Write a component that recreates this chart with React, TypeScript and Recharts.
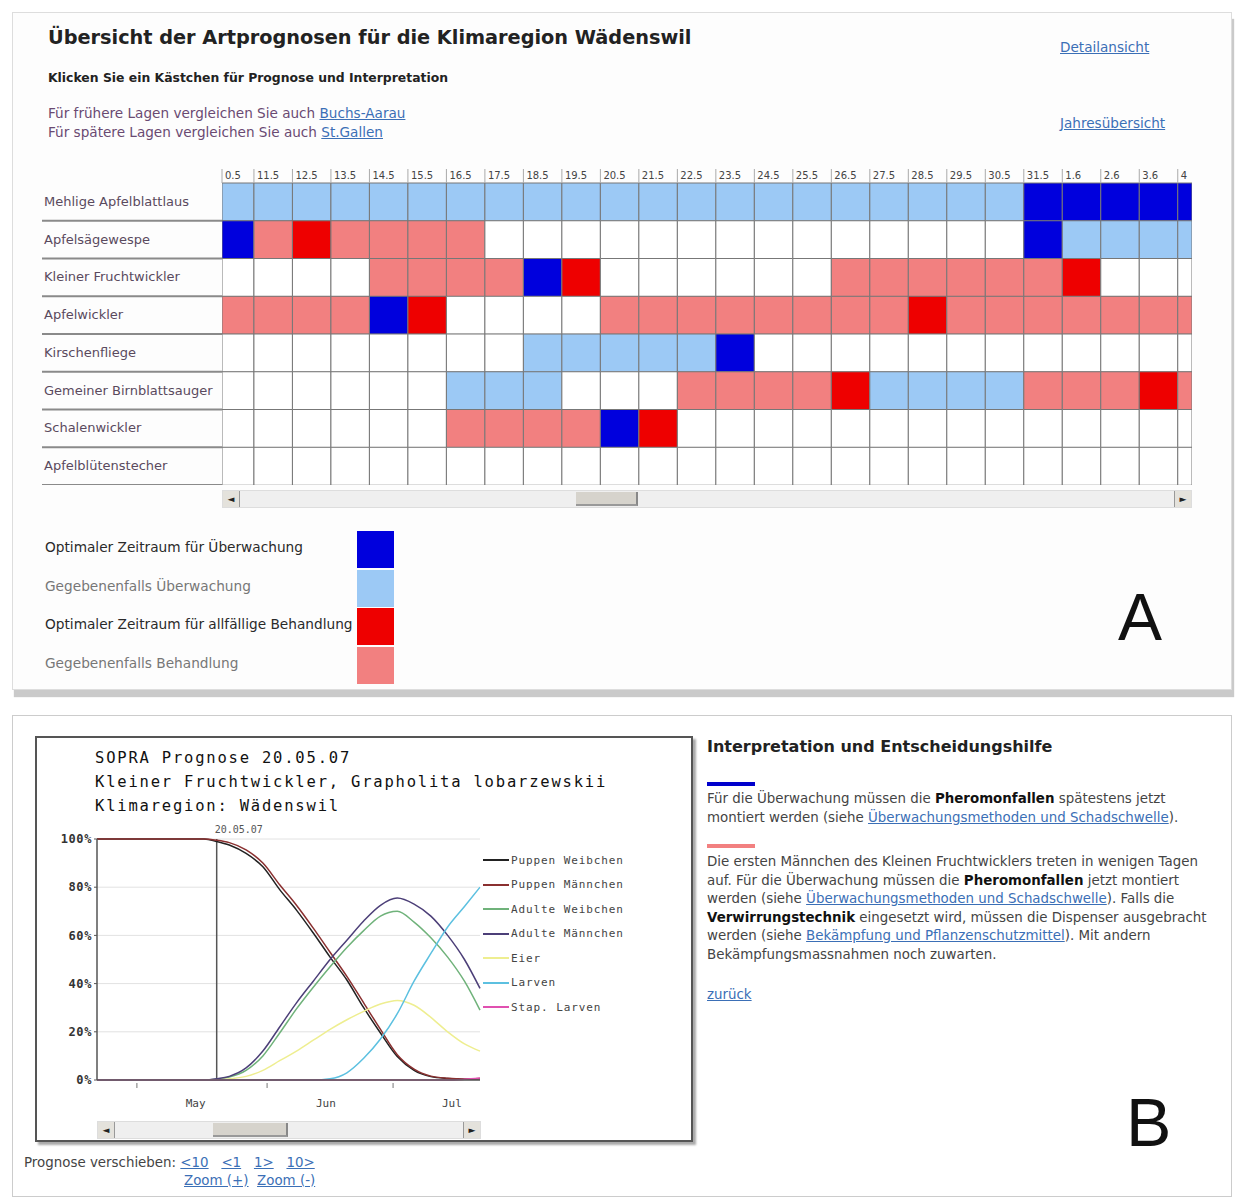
import React from 'react'
import {
  BarChart, Bar, Cell, XAxis, YAxis,
  LineChart, Line, CartesianGrid, ReferenceLine, Legend,
} from 'recharts'

// ---- panel A: species x date grid ----
const species = [
  'Mehlige Apfelblattlaus',
  'Apfelsägewespe',
  'Kleiner Fruchtwickler',
  'Apfelwickler',
  'Kirschenfliege',
  'Gemeiner Birnblattsauger',
  'Schalenwickler',
  'Apfelblütenstecher',
]

// visible column headers (grid is scrolled, first and last are cut)
const dates = [
  '0.5', '11.5', '12.5', '13.5', '14.5', '15.5', '16.5', '17.5', '18.5', '19.5',
  '20.5', '21.5', '22.5', '23.5', '24.5', '25.5', '26.5', '27.5', '28.5', '29.5',
  '30.5', '31.5', '1.6', '2.6', '3.6', '4',
]

// . none, l maybe monitoring, B optimal monitoring, r maybe treatment, R optimal treatment
const cellCodes = [
  'lllllllllllllllllllllBBBBB',
  'BrRrrrr..............Bllll',
  '....rrrrBR......rrrrrrR...',
  'rrrrBR....rrrrrrrrRrrrrrrr',
  '........lllllB............',
  '......lll...rrrrRllllrrrRr',
  '......rrrrBR..............',
  '..........................',
]

const codeColor: Record<string, string> = {
  '.': '#ffffff',
  l: '#9cc9f5',
  B: '#0000dd',
  r: '#f28080',
  R: '#ee0000',
}

const legendA = [
  { label: 'Optimaler Zeitraum für Überwachung', code: 'B', dark: true },
  { label: 'Gegebenenfalls Überwachung', code: 'l', dark: false },
  { label: 'Optimaler Zeitraum für allfällige Behandlung', code: 'R', dark: true },
  { label: 'Gegebenenfalls Behandlung', code: 'r', dark: false },
]

// ---- panel B: SOPRA forecast curves (day 0 = 1 May) ----
const days = [-9.5, 0, 10, 16, 19, 22, 26, 30, 34, 38, 42, 46, 50, 54, 58, 62, 66, 70, 74, 78, 81.7]
const puppenW = [100, 100, 100, 100, 99, 97.5, 94, 88.5, 79, 70.5, 61, 51, 41.5, 30, 19.5, 9.7, 4, 1.4, 0.6, 0.3, 0.5]
const puppenM = [100, 100, 100, 100, 99.5, 98.5, 95.5, 90, 81, 72.5, 63, 53, 43, 32, 21, 10.5, 4.5, 1.6, 0.7, 0.4, 0.6]
const adultW = [0, 0, 0, 0, 0.3, 1.2, 4, 10, 19.5, 29.5, 38.5, 47, 55, 62, 68, 70, 65.5, 59, 51, 41, 29]
const adultM = [0, 0, 0, 0, 0.5, 1.5, 5, 12, 22, 32, 41, 50, 58, 66, 72.5, 75.5, 73, 68, 60, 50, 38]
const eier = [0, 0, 0, 0, 0, 0.5, 1.5, 4, 8, 12, 16.5, 21, 25, 28.5, 31.5, 33, 31, 26, 20, 15, 12]
const larven = [0, 0, 0, 0, 0, 0, 0, 0, 0, 0, 0, 0.5, 3, 9, 17, 27.5, 41, 52.5, 63.5, 72, 80]
const stapLarven = [0, 0, 0, 0, 0, 0, 0, 0, 0, 0, 0, 0, 0, 0, 0, 0, 0, 0, 0, 0.3, 0.8]

const seriesB = [
  { key: 'pw', name: 'Puppen Weibchen', color: '#222222', values: puppenW },
  { key: 'pm', name: 'Puppen Männchen', color: '#8a3030', values: puppenM },
  { key: 'aw', name: 'Adulte Weibchen', color: '#6fb27a', values: adultW },
  { key: 'am', name: 'Adulte Männchen', color: '#4c3f78', values: adultM },
  { key: 'ei', name: 'Eier', color: '#eeee90', values: eier },
  { key: 'la', name: 'Larven', color: '#5cc0e0', values: larven },
  { key: 'sl', name: 'Stap. Larven', color: '#e050b0', values: stapLarven },
]

const monthStarts = [0, 31, 61]
const monthLabels = ['May', 'Jun', 'Jul']
const monthMids = [14, 45, 75]

const gridData = species.map(name => {
  const row: Record<string, any> = { name }
  dates.forEach((_, c) => { row['c' + c] = 1 })
  return row
})

const curveData = days.map((day, i) => {
  const row: Record<string, number> = { day }
  seriesB.forEach(s => { row[s.key] = s.values[i] })
  return row
})

const LABEL_W = 180
const HEADER_H = 18
const GRID_W = 1150
const GRID_H = 320
const ROW_H = (GRID_H - HEADER_H) / species.length
const COL_START = 0.17
const COL_END = 25.37

const SANS = '"DejaVu Sans", Verdana, sans-serif'
const ARIAL = '"Liberation Sans", Arial, sans-serif'
const MONO = '"DejaVu Sans Mono", "Liberation Mono", monospace'
const linkStyle: React.CSSProperties = { color: '#3b6fb6', textDecoration: 'underline' }

const RowTick = ({ x, y, payload }: any) => (
  <g>
    <text x={x - LABEL_W + 2} y={y + 4} fontSize={13} fill="#5a4a5e" fontFamily={SANS}>
      {payload.value}
    </text>
    <line x1={x - LABEL_W} x2={x} y1={y + ROW_H / 2} y2={y + ROW_H / 2} stroke="#8a8a8a" strokeWidth={2} />
  </g>
)

const DateTick = ({ x, y, payload }: any) => (
  <g>
    <line x1={x} x2={x} y1={y} y2={y - 14} stroke="#aaa" />
    <text x={x + 3} y={y - 4} fontSize={10} fill="#444" fontFamily={SANS}>
      {dates[Math.round(payload.value)]}
    </text>
  </g>
)

const MonthTick = ({ x, y, payload }: any) => {
  const si = monthStarts.indexOf(payload.value)
  if (si >= 0) return <line x1={x} x2={x} y1={y + 3} y2={y + 8} stroke="#777" />
  const mi = monthMids.indexOf(payload.value)
  return (
    <text x={x} y={y + 27} textAnchor="middle" fontSize={11} fill="#444" fontFamily={MONO}>
      {monthLabels[mi]}
    </text>
  )
}

const CurveLegend = ({ payload }: any) => {
  const order = seriesB.map(s => s.name)
  const items = [...(payload || [])].sort((a: any, b: any) => order.indexOf(a.value) - order.indexOf(b.value))
  return (
    <div>
      {items.map((p: any) => (
        <div key={p.value} style={{ display: 'flex', alignItems: 'center', height: 24.5 }}>
          <div style={{ width: 26, height: 2, background: p.color }} />
          <span style={{ fontFamily: MONO, fontSize: 11, color: '#444', marginLeft: 2, letterSpacing: 0.9 }}>
            {p.value}
          </span>
        </div>
      ))}
    </div>
  )
}

const ScrollBar = ({ left, top, width, height, thumbLeft, thumbWidth }: any) => (
  <div style={{ position: 'absolute', left, top, width, height, background: '#efefef', border: '1px solid #ddd', boxSizing: 'border-box' }}>
    <div style={{ position: 'absolute', left: 0, top: 0, width: height - 2, height: height - 2, background: '#e4e2dc', borderRight: '1px solid #999', fontSize: 9, lineHeight: `${height - 2}px`, textAlign: 'center', color: '#222' }}>◄</div>
    <div style={{ position: 'absolute', right: 0, top: 0, width: height - 2, height: height - 2, background: '#e4e2dc', borderLeft: '1px solid #999', fontSize: 9, lineHeight: `${height - 2}px`, textAlign: 'center', color: '#222' }}>►</div>
    <div style={{ position: 'absolute', left: thumbLeft, top: 1, width: thumbWidth, height: height - 4, background: '#d6d3cc', borderRight: '2px solid #888', borderBottom: '2px solid #999', boxSizing: 'border-box' }} />
  </div>
)

export default function App() {
  return (
    <div style={{ position: 'absolute', left: 0, top: 0, width: 1235, height: 1202, background: '#fff', fontFamily: SANS }}>
      {/* panel A */}
      <div style={{ position: 'absolute', left: 12, top: 12, width: 1218, height: 676, border: '1px solid #ddd', background: '#fdfdfd', boxShadow: '2px 7px 1px #cacaca' }} />
      <div style={{ position: 'absolute', left: 48, top: 26, fontWeight: 'bold', fontSize: 19.3, color: '#222' }}>
        Übersicht der Artprognosen für die Klimaregion Wädenswil
      </div>
      <div style={{ position: 'absolute', left: 48, top: 70, fontWeight: 'bold', fontSize: 12.4, color: '#222' }}>
        Klicken Sie ein Kästchen für Prognose und Interpretation
      </div>
      <div style={{ position: 'absolute', left: 48, top: 104, fontSize: 13.6, color: '#6a4a72', lineHeight: '19px' }}>
        Für frühere Lagen vergleichen Sie auch <span style={linkStyle}>Buchs-Aarau</span><br />
        Für spätere Lagen vergleichen Sie auch <span style={linkStyle}>St.Gallen</span>
      </div>
      <div style={{ position: 'absolute', left: 1060, top: 39, fontSize: 13.6, ...linkStyle }}>Detailansicht</div>
      <div style={{ position: 'absolute', left: 1060, top: 115, fontSize: 13.6, ...linkStyle }}>Jahresübersicht</div>

      <div style={{ position: 'absolute', left: 42, top: 165 }}>
        <BarChart
          width={GRID_W}
          height={GRID_H}
          data={gridData}
          layout="vertical"
          barCategoryGap={0}
          barGap={0}
          margin={{ top: 0, right: 0, bottom: 0, left: 0 }}
        >
          <XAxis
            type="number"
            orientation="top"
            domain={[COL_START, COL_END]}
            allowDataOverflow
            ticks={dates.map((_, i) => Math.max(i, COL_START))}
            interval={0}
            height={HEADER_H}
            axisLine={false}
            tickLine={false}
            tickSize={0}
            tickMargin={0}
            tick={<DateTick />}
          />
          <YAxis
            type="category"
            dataKey="name"
            width={LABEL_W}
            axisLine={false}
            tickLine={false}
            tickSize={0}
            tickMargin={0}
            interval={0}
            tick={<RowTick />}
          />
          {dates.map((_, c) => (
            <Bar key={c} dataKey={'c' + c} stackId="g" isAnimationActive={false}>
              {cellCodes.map((codes, r) => (
                <Cell key={r} fill={codeColor[codes[c]]} stroke="#777" strokeWidth={1} />
              ))}
            </Bar>
          ))}
        </BarChart>
      </div>
      <ScrollBar left={222} top={490} width={970} height={18} thumbLeft={353} thumbWidth={62} />

      {legendA.map((item, i) => (
        <React.Fragment key={item.label}>
          <div style={{ position: 'absolute', left: 45, top: 539 + i * 38.5, fontSize: 13.7, color: item.dark ? '#2a2a2a' : '#777' }}>
            {item.label}
          </div>
          <div style={{ position: 'absolute', left: 357, top: 531 + i * 38.5, width: 37, height: 37, background: codeColor[item.code] }} />
        </React.Fragment>
      ))}
      <div style={{ position: 'absolute', left: 1118, top: 582, fontFamily: ARIAL, fontSize: 66, color: '#111', lineHeight: '70px' }}>A</div>

      {/* panel B */}
      <div style={{ position: 'absolute', left: 12, top: 715, width: 1218, height: 480, border: '1px solid #ccc', background: '#fff' }} />
      <div style={{ position: 'absolute', left: 35, top: 736, width: 654, height: 402, border: '2px solid #555', background: '#fff', boxShadow: '3px 3px 2px #aaa' }} />
      <div style={{ position: 'absolute', left: 95, top: 746, fontFamily: MONO, fontSize: 15.5, letterSpacing: 1.8, lineHeight: '24px', color: '#111', whiteSpace: 'pre' }}>
        SOPRA Prognose 20.05.07<br />
        Kleiner Fruchtwickler, Grapholita lobarzewskii<br />
        Klimaregion: Wädenswil
      </div>

      <div style={{ position: 'absolute', left: 40, top: 815 }}>
        <LineChart width={600} height={305} data={curveData} margin={{ top: 24, right: 160, left: 12, bottom: 0 }}>
          <CartesianGrid vertical={false} stroke="#e2e2e2" />
          <XAxis
            dataKey="day"
            type="number"
            domain={[-9.5, 81.7]}
            ticks={[...monthStarts, ...monthMids]}
            interval={0}
            height={40}
            tickLine={false}
            tickSize={0}
            tickMargin={0}
            axisLine={{ stroke: '#555', strokeWidth: 1.5 }}
            tick={<MonthTick />}
          />
          <YAxis
            domain={[0, 100]}
            ticks={[0, 20, 40, 60, 80, 100]}
            tickFormatter={(v: number) => v + '%'}
            width={45}
            tickSize={3}
            tickMargin={2}
            axisLine={{ stroke: '#555', strokeWidth: 1.5 }}
            tickLine={{ stroke: '#555' }}
            tick={{ fontSize: 12, fontFamily: MONO, fontWeight: 'bold', fill: '#333', letterSpacing: 0.6 }}
          />
          <ReferenceLine
            x={19}
            stroke="#555"
            strokeWidth={1.5}
            label={(props: any) => (
              <text x={props.viewBox.x - 2} y={props.viewBox.y - 6} fontSize={10} fill="#555" fontFamily={MONO}>
                20.05.07
              </text>
            )}
          />
          {seriesB.map(s => (
            <Line
              key={s.key}
              type="monotone"
              dataKey={s.key}
              name={s.name}
              stroke={s.color}
              strokeWidth={1.5}
              dot={false}
              isAnimationActive={false}
            />
          ))}
          <Legend
            layout="vertical"
            align="center"
            verticalAlign="middle"
            content={<CurveLegend />}
            wrapperStyle={{ left: 443, top: 33, width: 150 }}
          />
        </LineChart>
      </div>
      <ScrollBar left={97} top={1121} width={384} height={18} thumbLeft={115} thumbWidth={75} />

      <div style={{ position: 'absolute', left: 24, top: 1154, fontSize: 13.4, color: '#444', lineHeight: '18px' }}>
        Prognose verschieben: <span style={linkStyle}>&lt;10</span>&nbsp;&nbsp; <span style={linkStyle}>&lt;1</span>&nbsp;&nbsp; <span style={linkStyle}>1&gt;</span>&nbsp;&nbsp; <span style={linkStyle}>10&gt;</span>
      </div>
      <div style={{ position: 'absolute', left: 184, top: 1172, fontSize: 13.4, lineHeight: '18px' }}>
        <span style={linkStyle}>Zoom (+)</span>&nbsp; <span style={linkStyle}>Zoom (-)</span>
      </div>

      <div style={{ position: 'absolute', left: 707, top: 737, fontWeight: 'bold', fontSize: 16, color: '#222' }}>
        Interpretation und Entscheidungshilfe
      </div>
      <div style={{ position: 'absolute', left: 707, top: 782, width: 48, height: 4, background: '#0000cc' }} />
      <div style={{ position: 'absolute', left: 707, top: 790, fontSize: 13.4, lineHeight: '18.5px', color: '#444', whiteSpace: 'nowrap' }}>
        Für die Überwachung müssen die <b style={{ color: '#111' }}>Pheromonfallen</b> spätestens jetzt<br />
        montiert werden (siehe <span style={linkStyle}>Überwachungsmethoden und Schadschwelle</span>).
      </div>
      <div style={{ position: 'absolute', left: 707, top: 844, width: 48, height: 4, background: '#f28080' }} />
      <div style={{ position: 'absolute', left: 707, top: 853, fontSize: 13.4, lineHeight: '18.5px', color: '#444', whiteSpace: 'nowrap' }}>
        Die ersten Männchen des Kleinen Fruchtwicklers treten in wenigen Tagen<br />
        auf. Für die Überwachung müssen die <b style={{ color: '#111' }}>Pheromonfallen</b> jetzt montiert<br />
        werden (siehe <span style={linkStyle}>Überwachungsmethoden und Schadschwelle</span>). Falls die<br />
        <b style={{ color: '#111' }}>Verwirrungstechnik</b> eingesetzt wird, müssen die Dispenser ausgebracht<br />
        werden (siehe <span style={linkStyle}>Bekämpfung und Pflanzenschutzmittel</span>). Mit andern<br />
        Bekämpfungsmassnahmen noch zuwarten.
      </div>
      <div style={{ position: 'absolute', left: 707, top: 987, fontSize: 13.4, ...linkStyle }}>zurück</div>
      <div style={{ position: 'absolute', left: 1126, top: 1086, fontFamily: ARIAL, fontSize: 68, color: '#111', lineHeight: '72px' }}>B</div>
    </div>
  )
}
